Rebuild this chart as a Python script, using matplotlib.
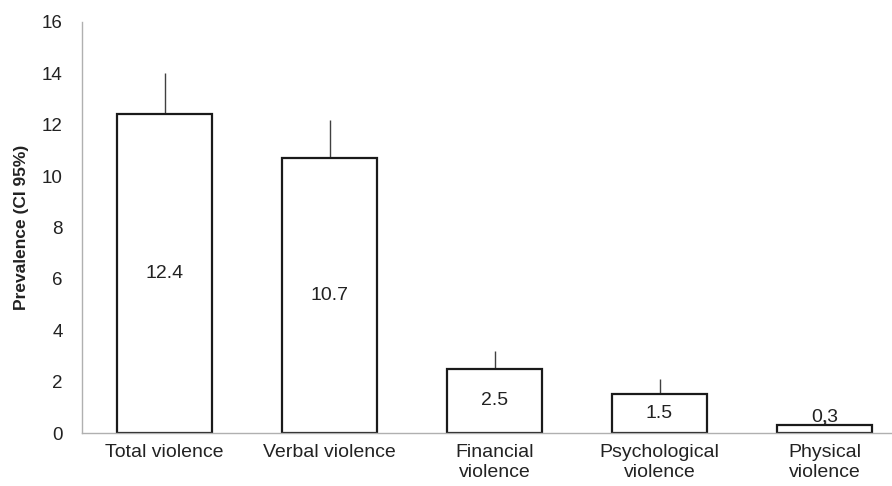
import numpy as np
import matplotlib
matplotlib.use("Agg")
import matplotlib.pyplot as plt

plt.rcParams['font.family'] = ['Liberation Sans', 'DejaVu Sans']

categories = ["Total violence", "Verbal violence", "Financial\nviolence",
              "Psychological\nviolence", "Physical\nviolence"]
prevalence = [12.4, 10.7, 2.5, 1.5, 0.3]
ci_upper = [14.0, 12.2, 3.2, 2.1, 0.5]
value_labels = ["12.4", "10.7", "2.5", "1.5", "0,3"]

fig = plt.figure(figsize=(8.92, 4.86), dpi=100)
ax = fig.add_axes([82 / 892, 53 / 486, 810 / 892, 411 / 486])

x = np.arange(len(categories))
vals = np.array(prevalence)
err_up = np.array(ci_upper) - vals
ax.errorbar(x, vals, yerr=[np.zeros_like(vals), err_up], fmt='none',
            ecolor='#404040', elinewidth=1.0, capsize=0, zorder=1)
ax.bar(x, vals, width=0.57, color='white', edgecolor='#1a1a1a',
       linewidth=1.6, zorder=2)

for i, (v, lab) in enumerate(zip(vals, value_labels)):
    if v > 1:
        ax.text(i, v / 2, lab, ha='center', va='center', fontsize=14,
                color='#222222', zorder=3)
    else:
        ax.text(i, v, lab, ha='center', va='bottom', fontsize=14,
                color='#222222', zorder=3)

ax.set_xlim(-0.5, 4.409)
ax.set_ylim(0, 16)
ax.set_yticks(range(0, 17, 2))
ax.set_xticks(x)
ax.set_xticklabels(categories, fontsize=14, color='#222222', linespacing=1.2)
ax.tick_params(axis='y', length=0, labelsize=13.5, pad=14, labelcolor='#222222')
ax.tick_params(axis='x', length=0, pad=8)
ax.set_ylabel("Prevalence (CI 95%)", fontsize=12.5, fontweight='bold',
              color='#222222', labelpad=9)

for s in ['top', 'right']:
    ax.spines[s].set_visible(False)
for s in ['left', 'bottom']:
    ax.spines[s].set_color('#b0b0b0')
    ax.spines[s].set_linewidth(1.0)

fig.savefig("out.png", dpi=100)
